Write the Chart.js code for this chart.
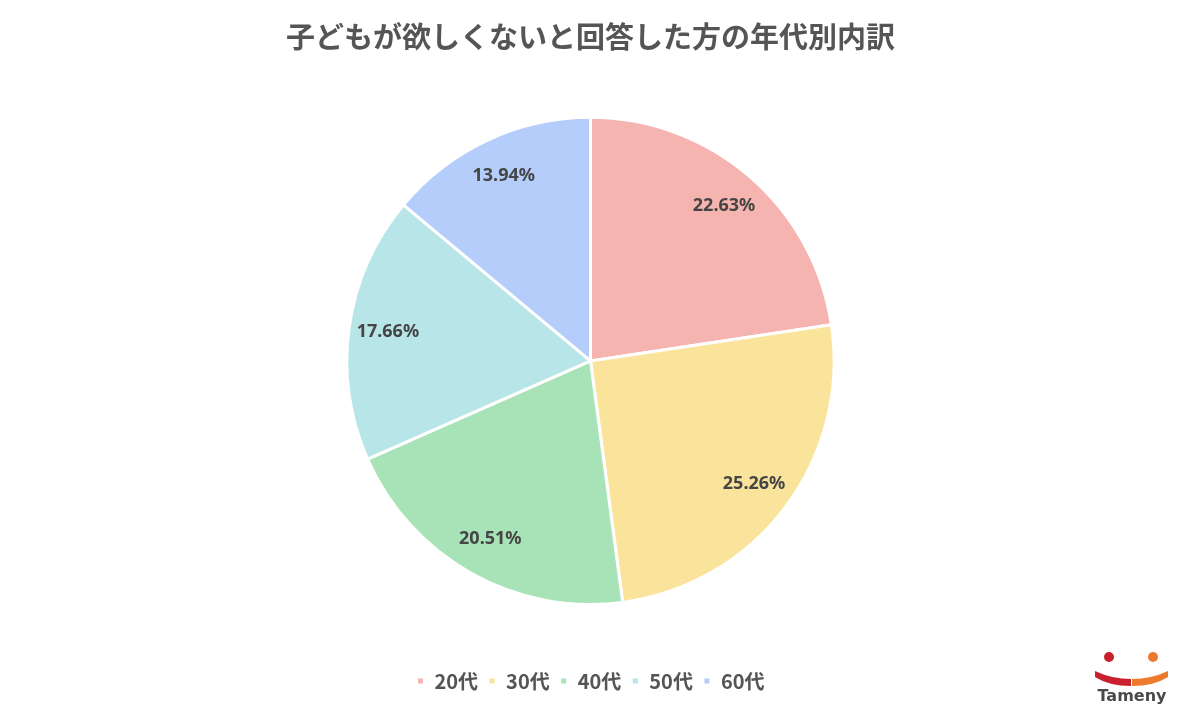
<!DOCTYPE html>
<html>
<head>
<meta charset="utf-8">
<script src="https://cdn.jsdelivr.net/npm/chart.js@4"></script>
<style>
  body { margin: 0; background: #fff; }
  #wrap { position: relative; width: 1181px; height: 709px; }
  #logo { position: absolute; left: 1082px; top: 644px; }
</style>
</head>
<body>
<div id="wrap">
  <canvas id="myChart" width="1181" height="709"></canvas>
  <svg id="logo" width="100" height="62" viewBox="0 0 100 62">
    <circle cx="27" cy="13" r="5" fill="#c8202f"/>
    <circle cx="71" cy="13" r="5" fill="#ee7a2e"/>
    <path d="M13 27 Q30 35 49 35 L49 42 Q27 42 13 33 Z" fill="#c8202f"/>
    <path d="M50 35 Q69 35 86 27 L86 33 Q72 42 50 42 Z" fill="#ee7a2e"/>
    <text x="50" y="57" text-anchor="middle" font-family="DejaVu Sans" font-weight="bold" font-size="16" fill="#4a4a4a">Tameny</text>
  </svg>
</div>
<script>
const labels = ["20代", "30代", "40代", "50代", "60代"];
const values = [22.63, 25.26, 20.51, 17.66, 13.94];
const colors = ["#f6b4b0", "#fae39b", "#a8e3b7", "#b7e5e8", "#b4cdfa"];

const fontFamily = "'Noto Sans CJK JP', 'Noto Sans', sans-serif";

// draws the percent labels inside each slice
const sliceLabels = {
  id: "sliceLabels",
  afterDatasetsDraw(chart) {
    const ctx = chart.ctx;
    const meta = chart.getDatasetMeta(0);
    ctx.save();
    ctx.font = "bold 18px 'Noto Sans', sans-serif";
    ctx.fillStyle = "#454545";
    ctx.textAlign = "center";
    ctx.textBaseline = "middle";
    meta.data.forEach((arc, i) => {
      const p = arc.getProps(["x", "y", "startAngle", "endAngle", "outerRadius"], true);
      const mid = (p.startAngle + p.endAngle) / 2;
      const r = p.outerRadius * 0.84;
      ctx.fillText(values[i].toFixed(2) + "%", p.x + Math.cos(mid) * r, p.y + Math.sin(mid) * r);
    });
    ctx.restore();
  }
};

const ctx = document.getElementById("myChart");
let chart = new Chart(ctx, {
  type: "pie",
  data: {
    labels: labels,
    datasets: [{
      data: values,
      backgroundColor: colors,
      borderColor: "#ffffff",
      borderWidth: 3,
      hoverOffset: 0
    }]
  },
  options: {
    responsive: false,
    animation: false,
    layout: { padding: { bottom: 8 } },
    plugins: {
      title: {
        display: true,
        text: "子どもが欲しくないと回答した方の年代別内訳",
        color: "#555555",
        padding: { top: 20, bottom: 61 },
        font: { size: 29, weight: "bold", family: fontFamily }
      },
      subtitle: {
        display: true,
        text: "",
        position: "bottom",
        weight: 500,
        padding: { top: 0, bottom: 43 },
        font: { size: 10 }
      },
      legend: {
        position: "bottom",
        labels: {
          usePointStyle: true,
          pointStyle: "rect",
          boxWidth: 8,
          boxHeight: 8,
          padding: 10,
          color: "#555555",
          font: { size: 20, weight: "bold", family: fontFamily }
        }
      },
      tooltip: { enabled: false }
    }
  },
  plugins: [sliceLabels]
});
</script>
</body>
</html>
